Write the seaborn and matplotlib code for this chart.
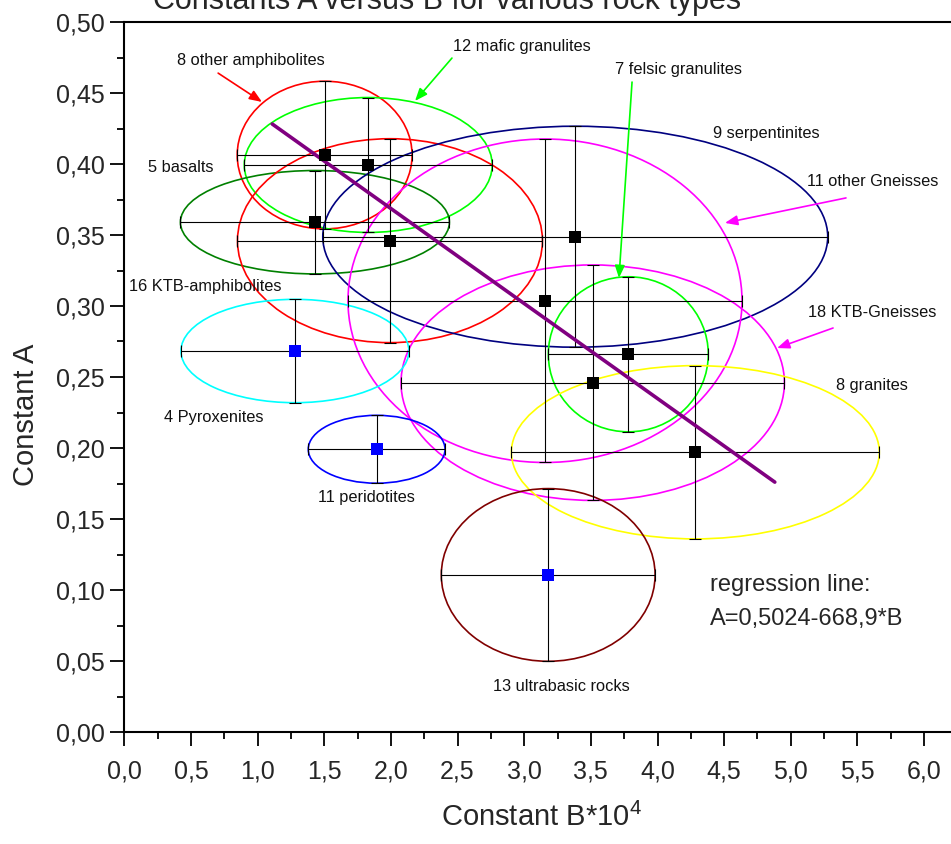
import numpy as np
import pandas as pd
import matplotlib
matplotlib.use("Agg")
import matplotlib.pyplot as plt
from matplotlib.patches import Ellipse
from matplotlib.ticker import MultipleLocator, FuncFormatter
import seaborn as sns

# rock groups: mean of constant B (*10^4) and A, with their spreads
groups = ["8 other amphibolites", "12 mafic granulites", "5 basalts", "16 KTB-amphibolites",
          "9 serpentinites", "11 other Gneisses", "18 KTB-Gneisses", "7 felsic granulites",
          "8 granites", "4 Pyroxenites", "11 peridotites", "13 ultrabasic rocks"]
b_mean = [1.503, 1.830, 1.430, 1.993, 3.383, 3.156, 3.514, 3.781, 4.284, 1.280, 1.893, 3.180]
a_mean = [0.4063, 0.3993, 0.3590, 0.3460, 0.3488, 0.3037, 0.2460, 0.2660, 0.1970, 0.2683, 0.1991, 0.1106]
b_err = [0.656, 0.930, 1.009, 1.144, 1.894, 1.478, 1.438, 0.600, 1.380, 0.855, 0.513, 0.802]
a_err = [0.0520, 0.0475, 0.0364, 0.0718, 0.0778, 0.1139, 0.0829, 0.0546, 0.0610, 0.0364, 0.0239, 0.0608]
ellipse_colors = ["#FF0000", "#00FF00", "#008000", "#FF0000", "#000080", "#FF00FF",
                  "#FF00FF", "#00FF00", "#FFFF00", "#00FFFF", "#0000FF", "#800000"]
marker_colors = ["black"] * 9 + ["#0000FF"] * 3

# regression line A = 0,5024 - 668,9*B  (B axis scaled by 10^4)
reg_intercept = 0.5024
reg_slope = -668.9e-4
reg_b = np.array([1.11, 4.88])

# annotation texts (placed in data coords)
label_texts = ["8 other amphibolites", "12 mafic granulites", "7 felsic granulites",
               "9 serpentinites", "11 other Gneisses", "18 KTB-Gneisses", "8 granites",
               "5 basalts", "16 KTB-amphibolites", "4 Pyroxenites", "11 peridotites",
               "13 ultrabasic rocks"]
label_xy = [(0.950, 0.4732), (2.983, 0.4824), (4.154, 0.4662), (4.814, 0.4218),
            (5.616, 0.3880), (5.608, 0.2951), (5.608, 0.2437), (0.425, 0.3972),
            (0.605, 0.3134), (0.673, 0.2218), (1.813, 0.1648), (3.276, 0.0317)]
arrows = [((0.704, 0.4640), (1.033, 0.4437), "#FF0000"),
          ((2.458, 0.4746), (2.181, 0.4444), "#00FF00"),
          ((3.809, 0.4577), (3.711, 0.3197), "#00FF00"),
          ((5.414, 0.3761), (4.506, 0.3585), "#FF00FF"),
          ((5.317, 0.2845), (4.897, 0.2704), "#FF00FF")]

df = pd.DataFrame({"group": groups, "B": b_mean, "A": a_mean})

sns.set_style("ticks")
plt.rcParams["font.family"] = ["Liberation Sans", "DejaVu Sans"]
plt.rcParams["mathtext.fontset"] = "custom"
plt.rcParams["mathtext.rm"] = "Liberation Sans"

fig = plt.figure(figsize=(9.51, 8.44), dpi=100)
ax = fig.add_axes([124.3 / 951, 112 / 844, 6.3 * 133.3 / 951, 710 / 844])

for b, a, xe, ye, c in zip(b_mean, a_mean, b_err, a_err, ellipse_colors):
    ax.add_patch(Ellipse((b, a), 2 * xe, 2 * ye, fill=False, edgecolor=c, lw=1.2, zorder=2))

ax.errorbar(b_mean, a_mean, xerr=b_err, yerr=a_err, fmt="none", ecolor="black",
            elinewidth=0.8, capsize=4, capthick=0.8, zorder=3)

sns.lineplot(x=reg_b, y=reg_intercept + reg_slope * reg_b, color="#800080",
             linewidth=2.6, ax=ax, zorder=4)

sns.scatterplot(data=df, x="B", y="A", hue="group",
                palette=dict(zip(groups, marker_colors)), marker="s", s=72,
                linewidth=0, legend=False, ax=ax, zorder=5)

for txt, (x, y) in zip(label_texts, label_xy):
    ax.text(x, y, txt, fontsize=11.8, ha="center", va="center", color="#111111", zorder=6)

for start, end, c in arrows:
    ax.annotate("", xy=end, xytext=start,
                arrowprops=dict(arrowstyle="-|>,head_length=0.75,head_width=0.3",
                                color=c, lw=1.2, mutation_scale=10,
                                shrinkA=0, shrinkB=0), zorder=6)

ax.text(4.394, 0.1035, "regression line:", fontsize=17, ha="left", va="center")
ax.text(4.394, 0.0796, "A=0,5024-668,9*B", fontsize=17, ha="left", va="center")

ax.set_xlim(0, 6.3)
ax.set_ylim(0, 0.5)
ax.xaxis.set_major_locator(MultipleLocator(0.5))
ax.xaxis.set_minor_locator(MultipleLocator(0.25))
ax.yaxis.set_major_locator(MultipleLocator(0.05))
ax.yaxis.set_minor_locator(MultipleLocator(0.025))
ax.xaxis.set_major_formatter(FuncFormatter(lambda v, p: f"{v:.1f}".replace(".", ",")))
ax.yaxis.set_major_formatter(FuncFormatter(lambda v, p: f"{v:.2f}".replace(".", ",")))
ax.tick_params(which="major", direction="out", length=10, width=1.3, labelsize=18, color="black")
ax.tick_params(which="minor", direction="out", length=5, width=1.3, color="black")
ax.tick_params(axis="x", which="major", pad=10)
ax.tick_params(axis="y", which="major", pad=4)
ax.set_xlabel("")
ax.set_ylabel("")
for s in ax.spines.values():
    s.set_linewidth(1.5)
    s.set_color("black")
    s.set_visible(True)

fig.text(26 / 951, 1 - 415 / 844, "Constant A", rotation=90, fontsize=21,
         ha="center", va="center")
fig.text(541 / 951, 1 - 826 / 844, r"Constant B*10$^{\mathregular{4}}$", fontsize=21,
         ha="center", va="baseline")
fig.text(447.5 / 951, 1 - 9 / 844, "Constants A versus B for various rock types",
         fontsize=22, ha="center", va="baseline")

fig.savefig("out.png", dpi=100)
